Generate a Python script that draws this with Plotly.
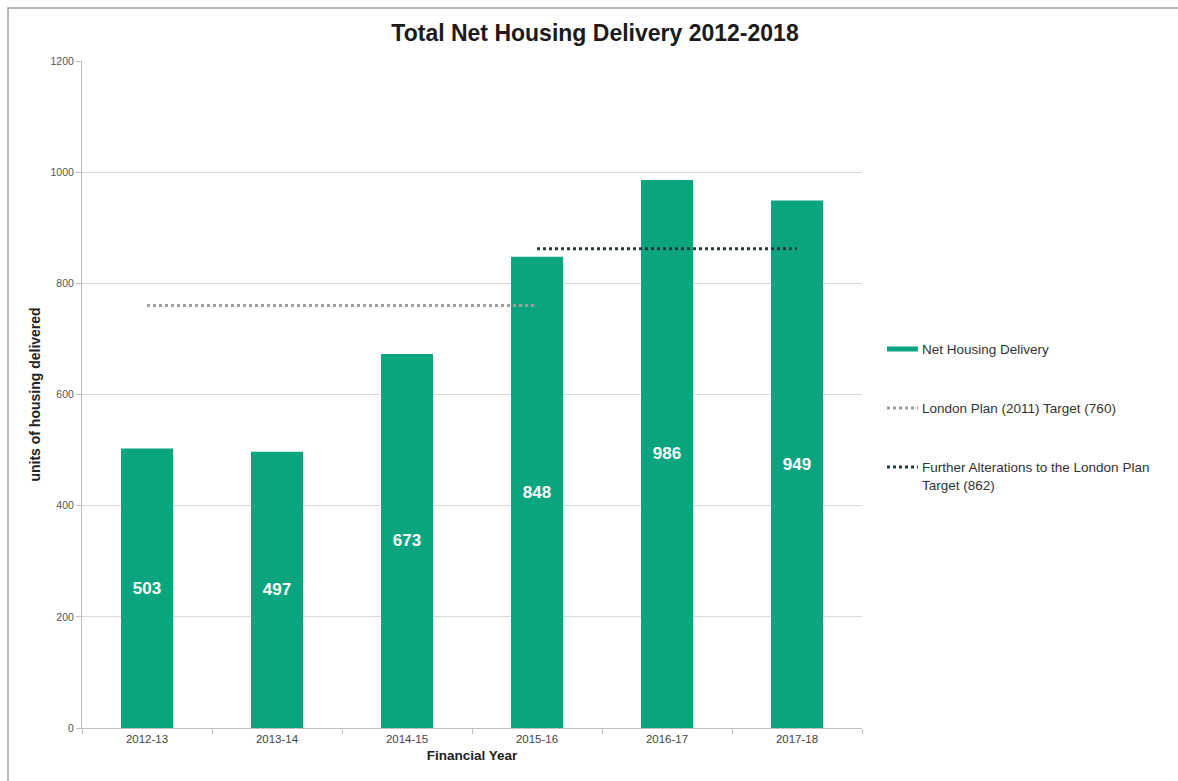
import plotly.graph_objects as go

years = ["2012-13", "2013-14", "2014-15", "2015-16", "2016-17", "2017-18"]
delivery = [503, 497, 673, 848, 986, 949]

target_2011_x = ["2012-13", "2015-16"]
target_2011_y = [760, 760]
target_falp_x = ["2015-16", "2017-18"]
target_falp_y = [862, 862]

legend_labels = ["Net Housing Delivery",
                 "London Plan (2011) Target (760)",
                 "Further Alterations to the London Plan<br>Target (862)"]

BAR = "#0aa57f"
GREY = "#a0a0a0"
DARK = "#243a3c"
FONT = "Liberation Sans, Arial, sans-serif"

fig = go.Figure()
fig.add_trace(go.Bar(
    x=years, y=delivery, marker=dict(color=BAR, line=dict(width=0)),
    width=0.4, text=[str(v) for v in delivery], textposition="inside",
    insidetextanchor="middle",
    textfont=dict(color="white", size=17, family=FONT, weight="bold"),
    name=legend_labels[0], showlegend=False, hoverinfo="skip"))
fig.add_trace(go.Scatter(
    x=target_2011_x, y=target_2011_y, mode="lines",
    line=dict(color=GREY, width=3, dash="dot"),
    name=legend_labels[1], showlegend=False, hoverinfo="skip"))
fig.add_trace(go.Scatter(
    x=target_falp_x, y=target_falp_y, mode="lines",
    line=dict(color=DARK, width=3, dash="dot"),
    name=legend_labels[2], showlegend=False, hoverinfo="skip"))

W, H = 1178, 781
L, R, T, B = 82, 862, 61, 728

def px(x):
    return (x - L) / (R - L)

def py(y):
    return (B - y) / (B - T)

shapes = [
    dict(type="rect", xref="paper", yref="paper",
         x0=px(8), x1=px(1190), y0=py(800), y1=py(8),
         line=dict(color="#a0a0a0", width=1.5), layer="below"),
    dict(type="rect", xref="paper", yref="paper",
         x0=px(887), x1=px(918), y0=py(351.5), y1=py(346.5),
         fillcolor=BAR, line=dict(width=0)),
    dict(type="line", xref="paper", yref="paper",
         x0=px(887), x1=px(918), y0=py(408), y1=py(408),
         line=dict(color=GREY, width=3, dash="dot")),
    dict(type="line", xref="paper", yref="paper",
         x0=px(887), x1=px(918), y0=py(467), y1=py(467),
         line=dict(color=DARK, width=3, dash="dot")),
]

LEG_FONT = dict(size=13.5, color="#333333", family=FONT)
annotations = [
    dict(text=legend_labels[0], xref="paper", yref="paper", x=px(920), y=py(349),
         xanchor="left", yanchor="middle", showarrow=False, font=LEG_FONT),
    dict(text=legend_labels[1], xref="paper", yref="paper", x=px(920), y=py(408),
         xanchor="left", yanchor="middle", showarrow=False, font=LEG_FONT),
    dict(text=legend_labels[2], xref="paper", yref="paper", x=px(920), y=py(458),
         xanchor="left", yanchor="top", showarrow=False, align="left", font=LEG_FONT),
]

fig.update_layout(
    width=W, height=H,
    margin=dict(l=L, r=W - R, t=T, b=H - B, autoexpand=False),
    paper_bgcolor="white", plot_bgcolor="white",
    title=dict(text="<b>Total Net Housing Delivery 2012-2018</b>",
               x=595 / W, xanchor="center",
               y=1 - 33 / H, yanchor="middle",
               font=dict(size=23, color="#1a1a1a", family=FONT)),
    font=dict(family=FONT),
    shapes=shapes, annotations=annotations,
    showlegend=False,
)
fig.update_xaxes(
    type="category", showline=True, linecolor="#bfbfbf", linewidth=1,
    ticks="outside", tickson="boundaries", ticklen=5, tickcolor="#bfbfbf",
    tickfont=dict(size=11.5, color="#444444", family=FONT),
    title=dict(text="<b>Financial Year</b>", standoff=6,
               font=dict(size=13.5, color="#222222", family=FONT)),
    showgrid=False, automargin=False)
fig.update_yaxes(
    range=[0, 1200], tickvals=[0, 200, 400, 600, 800, 1000, 1200],
    showline=True, linecolor="#bfbfbf", linewidth=1,
    ticks="outside", ticklen=5, tickcolor="#bfbfbf",
    tickfont=dict(size=10.5, color="#555555", family=FONT),
    showgrid=True, gridcolor="#d9d9d9", gridwidth=1, zeroline=False,
    title=dict(text="<b>units of housing delivered</b>", standoff=6,
               font=dict(size=14, color="#222222", family=FONT)),
    automargin=False)

fig.write_html("out.html")
